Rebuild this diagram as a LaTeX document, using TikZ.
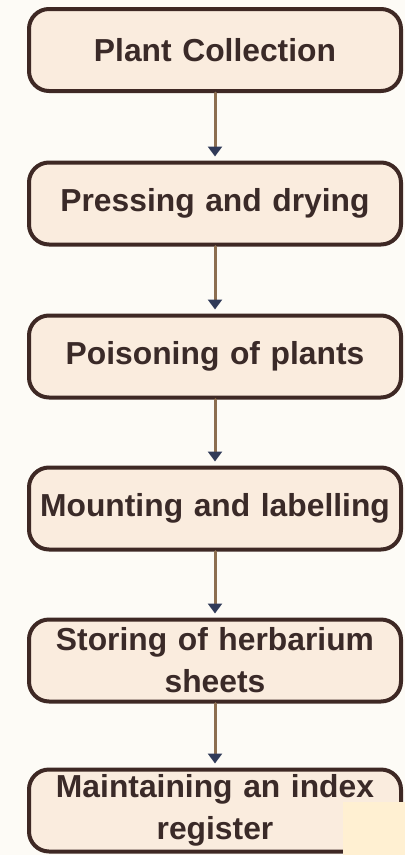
\documentclass[tikz,border=0pt]{standalone}
\usepackage{fontspec}
\setmainfont{Liberation Sans}
\usetikzlibrary{arrows.meta}
\definecolor{bg}{RGB}{253,251,246}
\definecolor{boxfill}{RGB}{250,236,222}
\definecolor{edge}{RGB}{62,40,36}
\definecolor{ink}{RGB}{58,42,40}
\definecolor{shaft}{RGB}{140,110,80}
\definecolor{head}{RGB}{48,58,88}
\definecolor{patch}{RGB}{255,240,210}
\tikzset{
  every picture/.style={line cap=round, line join=round},
  % Kasten eines Arbeitsschritts
  box/.style={draw=edge, fill=boxfill, line width=4pt, rounded corners=20pt,
    minimum width=372pt, minimum height=82pt, text width=362pt, align=center,
    inner sep=0pt, text=ink, font=\fontsize{31.8}{42}\selectfont\bfseries},
  % Pfeil zwischen zwei Schritten
  flow/.style={shaft, line width=3pt, shorten >=4pt,
    -{Triangle[length=10pt,width=14pt,color=head]}},
}

\begin{document}
\begin{tikzpicture}[x=1pt, y=1pt]
  % ---------- Rahmen ----------
  \fill[bg] (0,0) rectangle (405,-855);
  \useasboundingbox (0,0) rectangle (405,-855);
  % ---------- Schritte ----------
  \foreach \i/\y/\txt in {1/50/{Plant Collection}, 2/203.5/{Pressing and drying},
      3/356.5/{Poisoning of plants}, 4/508.5/{Mounting and labelling},
      5/660.5/{Storing of herbarium\\sheets}, 6/810.5/{Maintaining an index\\register}} {
    \node[box] (s\i) at (215,-\y) {\txt};
  }
  \foreach \i [count=\j from 2] in {1,...,5} {
    \draw[flow] (s\i) -- (s\j);
  }
  % Fleck unten rechts
  \fill[patch] (343,-802) rectangle (405,-855);
\end{tikzpicture}
\end{document}
